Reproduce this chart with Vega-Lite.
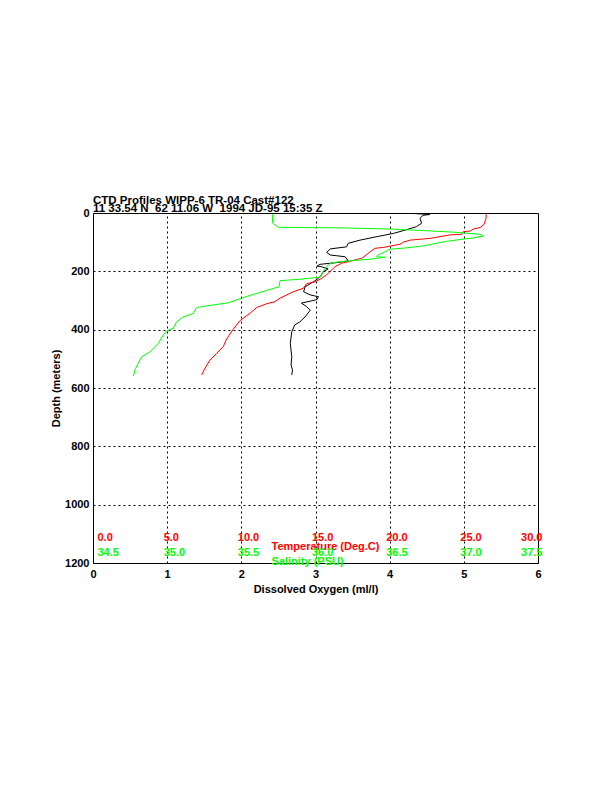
{
  "$schema": "https://vega.github.io/schema/vega-lite/v6.json",
  "autosize": {"type": "none"},
  "padding": {"left": 93, "top": 213, "right": 74, "bottom": 229},
  "width": 445,
  "height": 350,
  "background": "white",
  "title": {
    "text": ["CTD Profiles WIPP-6 TR-04 Cast#122", "11 33.54 N \u00a062 11.06 W \u00a01994 JD-95 15:35 Z"],
    "anchor": "start",
    "frame": "group",
    "font": "Liberation Sans",
    "fontSize": 11.5,
    "fontWeight": "bold",
    "color": "black",
    "lineHeight": 7.5,
    "baseline": "bottom",
    "offset": -18
  },
  "datasets": {
    "oxygen": [
      {"depth": 2, "oxygen": 4.34}, {"depth": 5, "oxygen": 4.54}, {"depth": 8, "oxygen": 4.45},
      {"depth": 18, "oxygen": 4.41}, {"depth": 35, "oxygen": 4.43}, {"depth": 47, "oxygen": 4.36},
      {"depth": 57, "oxygen": 4.23}, {"depth": 70, "oxygen": 4.05}, {"depth": 81, "oxygen": 3.83},
      {"depth": 93, "oxygen": 3.60}, {"depth": 104, "oxygen": 3.44}, {"depth": 116, "oxygen": 3.42},
      {"depth": 123, "oxygen": 3.20}, {"depth": 135, "oxygen": 3.15}, {"depth": 144, "oxygen": 3.20},
      {"depth": 150, "oxygen": 3.40}, {"depth": 164, "oxygen": 3.44}, {"depth": 170, "oxygen": 3.29},
      {"depth": 176, "oxygen": 3.06}, {"depth": 182, "oxygen": 3.02}, {"depth": 184, "oxygen": 3.08},
      {"depth": 192, "oxygen": 3.17}, {"depth": 202, "oxygen": 3.10}, {"depth": 213, "oxygen": 3.08},
      {"depth": 224, "oxygen": 3.04}, {"depth": 236, "oxygen": 2.97}, {"depth": 253, "oxygen": 2.86},
      {"depth": 270, "oxygen": 2.84}, {"depth": 281, "oxygen": 2.93}, {"depth": 287, "oxygen": 3.04},
      {"depth": 297, "oxygen": 3.02}, {"depth": 309, "oxygen": 2.81}, {"depth": 321, "oxygen": 2.88},
      {"depth": 333, "oxygen": 2.93}, {"depth": 356, "oxygen": 2.86}, {"depth": 373, "oxygen": 2.79},
      {"depth": 384, "oxygen": 2.72}, {"depth": 407, "oxygen": 2.68}, {"depth": 447, "oxygen": 2.66},
      {"depth": 493, "oxygen": 2.68}, {"depth": 521, "oxygen": 2.67}, {"depth": 538, "oxygen": 2.69},
      {"depth": 555, "oxygen": 2.68}
    ],
    "temperature": [
      {"depth": 4, "temperature": 26.50}, {"depth": 18, "temperature": 26.50}, {"depth": 39, "temperature": 26.36},
      {"depth": 50, "temperature": 26.09}, {"depth": 55, "temperature": 25.64}, {"depth": 62, "temperature": 25.42},
      {"depth": 64, "temperature": 24.96}, {"depth": 73, "temperature": 24.86}, {"depth": 75, "temperature": 24.07},
      {"depth": 81, "temperature": 23.39}, {"depth": 87, "temperature": 22.72}, {"depth": 93, "temperature": 21.37},
      {"depth": 100, "temperature": 20.92}, {"depth": 107, "temperature": 20.70}, {"depth": 118, "temperature": 19.57},
      {"depth": 121, "temperature": 19.01}, {"depth": 133, "temperature": 18.68}, {"depth": 147, "temperature": 18.34},
      {"depth": 155, "temperature": 18.12}, {"depth": 161, "temperature": 17.66}, {"depth": 167, "temperature": 17.21},
      {"depth": 172, "temperature": 16.77}, {"depth": 184, "temperature": 16.32}, {"depth": 207, "temperature": 15.86},
      {"depth": 224, "temperature": 15.42}, {"depth": 236, "temperature": 14.97}, {"depth": 242, "temperature": 14.41},
      {"depth": 258, "temperature": 14.18}, {"depth": 270, "temperature": 13.50}, {"depth": 292, "temperature": 12.61},
      {"depth": 304, "temperature": 12.27}, {"depth": 311, "temperature": 11.71}, {"depth": 324, "temperature": 11.04},
      {"depth": 344, "temperature": 10.58}, {"depth": 369, "temperature": 9.91}, {"depth": 398, "temperature": 9.46},
      {"depth": 432, "temperature": 9.01}, {"depth": 458, "temperature": 8.78}, {"depth": 481, "temperature": 8.34},
      {"depth": 504, "temperature": 7.89}, {"depth": 532, "temperature": 7.55}, {"depth": 555, "temperature": 7.33}
    ],
    "salinity": [
      {"depth": 4, "salinity": 35.709}, {"depth": 34, "salinity": 35.710}, {"depth": 49, "salinity": 35.749},
      {"depth": 51, "salinity": 36.177}, {"depth": 55, "salinity": 36.502}, {"depth": 62, "salinity": 36.792},
      {"depth": 66, "salinity": 36.940}, {"depth": 73, "salinity": 37.109}, {"depth": 79, "salinity": 37.131},
      {"depth": 87, "salinity": 37.042}, {"depth": 90, "salinity": 36.986}, {"depth": 98, "salinity": 36.873},
      {"depth": 106, "salinity": 36.792}, {"depth": 113, "salinity": 36.725}, {"depth": 120, "salinity": 36.603},
      {"depth": 124, "salinity": 36.502}, {"depth": 136, "salinity": 36.455}, {"depth": 146, "salinity": 36.415},
      {"depth": 150, "salinity": 36.413}, {"depth": 152, "salinity": 36.469}, {"depth": 159, "salinity": 36.354},
      {"depth": 167, "salinity": 36.165}, {"depth": 172, "salinity": 36.098}, {"depth": 184, "salinity": 36.076},
      {"depth": 201, "salinity": 36.051}, {"depth": 220, "salinity": 36.030}, {"depth": 227, "salinity": 35.896},
      {"depth": 232, "salinity": 35.761}, {"depth": 253, "salinity": 35.754}, {"depth": 272, "salinity": 35.626},
      {"depth": 288, "salinity": 35.525}, {"depth": 308, "salinity": 35.412}, {"depth": 315, "salinity": 35.311},
      {"depth": 324, "salinity": 35.199}, {"depth": 344, "salinity": 35.176}, {"depth": 356, "salinity": 35.109},
      {"depth": 373, "salinity": 35.064}, {"depth": 395, "salinity": 35.041}, {"depth": 404, "salinity": 34.997},
      {"depth": 418, "salinity": 34.974}, {"depth": 447, "salinity": 34.940}, {"depth": 476, "salinity": 34.884},
      {"depth": 493, "salinity": 34.828}, {"depth": 515, "salinity": 34.805}, {"depth": 538, "salinity": 34.783},
      {"depth": 559, "salinity": 34.772}
    ]
  },
  "config": {
    "view": {"stroke": "black", "strokeWidth": 1},
    "axis": {
      "labelFont": "Liberation Sans",
      "labelFontWeight": "bold",
      "labelFontSize": 11,
      "labelColor": "black",
      "titleFont": "Liberation Sans",
      "titleFontWeight": "bold",
      "titleFontSize": 11,
      "titleColor": "black",
      "domain": false,
      "ticks": false,
      "gridColor": "black",
      "gridOpacity": 1,
      "gridWidth": 1,
      "gridDash": [2, 3]
    }
  },
  "layer": [
    {
      "data": {"name": "oxygen"},
      "mark": {"type": "line", "color": "black", "strokeWidth": 1, "clip": true},
      "encoding": {
        "x": {
          "field": "oxygen", "type": "quantitative",
          "scale": {"domain": [0, 6], "nice": false, "zero": false},
          "axis": {
            "title": "Dissolved Oxygen (ml/l)",
            "values": [0, 1, 2, 3, 4, 5, 6],
            "format": "d",
            "grid": true,
            "labelFlush": false,
            "labelPadding": 5,
            "titlePadding": 4
          }
        },
        "y": {
          "field": "depth", "type": "quantitative",
          "scale": {"domain": [0, 1200], "reverse": true, "nice": false},
          "axis": {
            "title": "Depth (meters)",
            "values": [0, 200, 400, 600, 800, 1000, 1200],
            "format": "d",
            "grid": true,
            "labelPadding": 4,
            "titleX": -37,
            "titleY": 175,
            "titleAngle": -90,
            "titleAlign": "center",
            "titleBaseline": "middle"
          }
        },
        "order": {"field": "depth", "type": "quantitative"}
      }
    },
    {
      "data": {"name": "temperature"},
      "mark": {"type": "line", "color": "#ff0000", "strokeWidth": 1, "clip": true},
      "encoding": {
        "x": {
          "field": "temperature", "type": "quantitative",
          "scale": {"domain": [0, 30], "nice": false, "zero": false},
          "axis": {
            "orient": "bottom",
            "offset": -26,
            "grid": false,
            "values": [0, 5, 10, 15, 20, 25, 30],
            "format": ".1f",
            "labelColor": "#ff0000",
            "labelBaseline": "middle",
            "labelPadding": 0,
            "labelAlign": {"expr": "datum.value == 30 ? 'right' : 'left'"},
            "labelOffset": {"expr": "datum.value == 0 || datum.value == 30 ? 4 : -4"},
            "title": "Temperature (Deg.C)",
            "titleColor": "#ff0000",
            "titleX": 178,
            "titleY": 9,
            "titleAlign": "left",
            "titleBaseline": "middle"
          }
        },
        "y": {"field": "depth", "type": "quantitative", "scale": {"domain": [0, 1200], "reverse": true, "nice": false}},
        "order": {"field": "depth", "type": "quantitative"}
      }
    },
    {
      "data": {"name": "salinity"},
      "mark": {"type": "line", "color": "#00ff00", "strokeWidth": 1, "clip": true},
      "encoding": {
        "x": {
          "field": "salinity", "type": "quantitative",
          "scale": {"domain": [34.5, 37.5], "nice": false, "zero": false},
          "axis": {
            "orient": "bottom",
            "offset": -11,
            "grid": false,
            "values": [34.5, 35, 35.5, 36, 36.5, 37, 37.5],
            "format": ".1f",
            "labelColor": "#00ff00",
            "labelBaseline": "middle",
            "labelPadding": 0,
            "labelAlign": {"expr": "datum.value == 37.5 ? 'right' : 'left'"},
            "labelOffset": {"expr": "datum.value == 34.5 || datum.value == 37.5 ? 4 : -4"},
            "title": "Salinity (PSU)",
            "titleColor": "#00ff00",
            "titleX": 178,
            "titleY": 9,
            "titleAlign": "left",
            "titleBaseline": "middle"
          }
        },
        "y": {"field": "depth", "type": "quantitative", "scale": {"domain": [0, 1200], "reverse": true, "nice": false}},
        "order": {"field": "depth", "type": "quantitative"}
      }
    }
  ],
  "resolve": {"scale": {"x": "independent"}, "axis": {"x": "independent"}}
}
